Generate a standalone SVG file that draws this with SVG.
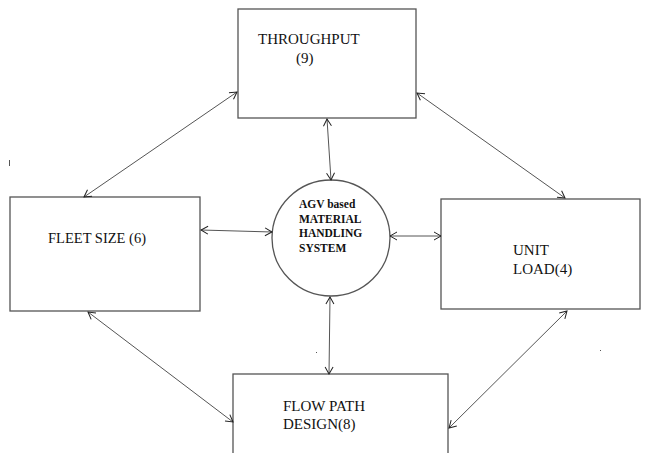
<svg xmlns="http://www.w3.org/2000/svg" width="648" height="453" viewBox="0 0 648 453">
<defs>
<marker id="arr" markerWidth="10" markerHeight="10" refX="8" refY="5" orient="auto-start-reverse" markerUnits="userSpaceOnUse">
<path d="M1,1 L8,5 L1,9" fill="none" stroke="#222" stroke-width="1"/>
</marker>
</defs>
<style>
.box{fill:#fff;stroke:#555;stroke-width:1.3}
.lbl{font-family:"Liberation Serif",serif;font-size:15px;fill:#111}
.blbl{font-family:"Liberation Serif",serif;font-size:11.5px;font-weight:bold;fill:#111}
.con{stroke:#555;stroke-width:1;fill:none;marker-start:url(#arr);marker-end:url(#arr)}
</style>
<rect width="648" height="453" fill="#fff"/>
<g id="throughput">
<rect class="box" x="238" y="9" width="178" height="109"/>
<text class="lbl" x="258" y="44">THROUGHPUT</text>
<text class="lbl" x="296" y="63">(9)</text>
</g>
<g id="agv">
<ellipse class="box" cx="331" cy="238" rx="59" ry="58"/>
<text class="blbl" x="299" y="208">AGV based</text>
<text class="blbl" x="299" y="223">MATERIAL</text>
<text class="blbl" x="299" y="237">HANDLING</text>
<text class="blbl" x="299" y="252">SYSTEM</text>
</g>
<g id="fleet">
<rect class="box" x="10" y="197" width="190" height="114"/>
<text class="lbl" x="48" y="243" style="font-size:14.5px">FLEET SIZE (6)</text>
</g>
<g id="unitload">
<rect class="box" x="441" y="199" width="199" height="110"/>
<text class="lbl" x="513" y="255">UNIT</text>
<text class="lbl" x="513" y="274">LOAD(4)</text>
</g>
<g id="flowpath">
<rect class="box" x="233" y="374" width="215" height="90"/>
<text class="lbl" x="283" y="411">FLOW PATH</text>
<text class="lbl" x="283" y="429">DESIGN(8)</text>
</g>
<g id="connectors">
<line class="con" x1="237" y1="92" x2="84" y2="197"/>
<line class="con" x1="417" y1="93" x2="565" y2="198"/>
<line class="con" x1="88" y1="312" x2="233" y2="422"/>
<line class="con" x1="567" y1="311" x2="449" y2="428"/>
<line class="con" x1="327" y1="119" x2="331" y2="180"/>
<line class="con" x1="330" y1="297" x2="329" y2="374"/>
<line class="con" x1="201" y1="230" x2="272" y2="232"/>
<line class="con" x1="390" y1="236" x2="441" y2="236"/>
</g>
<g id="marks" fill="#555">
<rect x="9" y="160" width="1" height="6"/>
<rect x="316" y="352" width="1" height="1"/>
<rect x="600" y="350" width="1" height="1"/>
</g>
</svg>
